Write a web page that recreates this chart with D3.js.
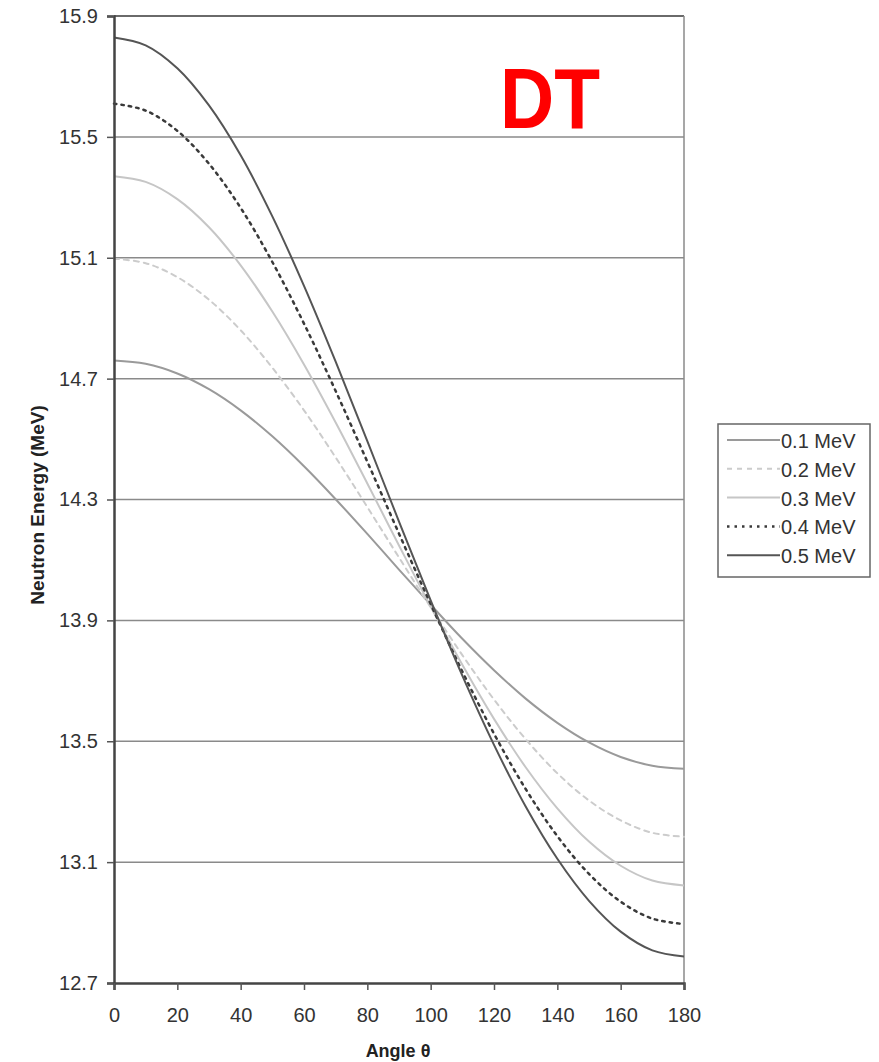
<!DOCTYPE html>
<html>
<head>
<meta charset="utf-8">
<script src="https://cdn.jsdelivr.net/npm/d3@7"></script>
<style>
  body { margin: 0; background: #fff; }
  text { font-family: "Liberation Sans", Arial, sans-serif; }
</style>
</head>
<body>
<svg id="chart" width="879" height="1062"></svg>
<script>
// angle in degrees
const angles = [0, 10, 20, 30, 40, 50, 60, 70, 80, 90, 100, 110, 120, 130, 140, 150, 160, 170, 180];

// neutron energy (MeV), one list per deuteron energy
const e01 = [14.760, 14.749, 14.717, 14.665, 14.595, 14.509, 14.410, 14.301, 14.186, 14.068, 13.952, 13.839, 13.735, 13.641, 13.561, 13.496, 13.448, 13.419, 13.409];
const e02 = [15.097, 15.082, 15.036, 14.961, 14.860, 14.736, 14.595, 14.439, 14.275, 14.108, 13.943, 13.785, 13.638, 13.507, 13.394, 13.304, 13.238, 13.197, 13.184];
const e03 = [15.370, 15.351, 15.294, 15.201, 15.075, 14.922, 14.747, 14.555, 14.353, 14.148, 13.946, 13.753, 13.574, 13.414, 13.278, 13.168, 13.088, 13.039, 13.023];
const e04 = [15.610, 15.587, 15.520, 15.411, 15.265, 15.086, 14.882, 14.659, 14.425, 14.187, 13.954, 13.731, 13.525, 13.342, 13.186, 13.061, 12.969, 12.913, 12.895];
const e05 = [15.829, 15.803, 15.727, 15.604, 15.439, 15.237, 15.007, 14.756, 14.493, 14.227, 13.966, 13.717, 13.488, 13.284, 13.111, 12.972, 12.870, 12.808, 12.788];

const seriesNames = ["0.1 MeV", "0.2 MeV", "0.3 MeV", "0.4 MeV", "0.5 MeV"];
const yTicks = [12.7, 13.1, 13.5, 13.9, 14.3, 14.7, 15.1, 15.5, 15.9];
const xTicks = [0, 20, 40, 60, 80, 100, 120, 140, 160, 180];

const seriesValues = [e01, e02, e03, e04, e05];
const styles = [
  { color: "#9a9a9a", width: 2, dash: null },
  { color: "#cccccc", width: 2, dash: "5,5" },
  { color: "#c6c6c6", width: 2, dash: null },
  { color: "#3a3a3a", width: 2.5, dash: "2.5,5" },
  { color: "#555555", width: 2, dash: null }
];

const svg = d3.select("#chart");
const plotLeft = 114, plotRight = 684, plotTop = 16, plotBottom = 983;

const x = d3.scaleLinear().domain([0, 180]).range([plotLeft, plotRight]);
const y = d3.scaleLinear().domain([12.7, 15.9]).range([plotBottom, plotTop]);

// grid lines
svg.append("g")
  .selectAll("line")
  .data(yTicks.slice(1, -1))
  .join("line")
    .attr("x1", plotLeft).attr("x2", plotRight)
    .attr("y1", d => y(d)).attr("y2", d => y(d))
    .attr("stroke", "#8a8a8a")
    .attr("stroke-width", 1.5);

// frame top/right
svg.append("line")
  .attr("x1", plotLeft).attr("x2", plotRight).attr("y1", plotTop).attr("y2", plotTop)
  .attr("stroke", "#6a6a6a").attr("stroke-width", 2);
svg.append("line")
  .attr("x1", plotRight).attr("x2", plotRight).attr("y1", plotTop).attr("y2", plotBottom)
  .attr("stroke", "#8a8a8a").attr("stroke-width", 1.5);

// curves
const line = d3.line()
  .x((d, i) => x(angles[i]))
  .y(d => y(d))
  .curve(d3.curveCatmullRom);

seriesValues.forEach((vals, i) => {
  svg.append("path")
    .datum(vals)
    .attr("d", line)
    .attr("fill", "none")
    .attr("stroke", styles[i].color)
    .attr("stroke-width", styles[i].width)
    .attr("stroke-dasharray", styles[i].dash)
    .attr("stroke-linecap", styles[i].dash ? "round" : "butt");
});

// axes
const yAxis = svg.append("g")
  .attr("transform", `translate(${plotLeft},0)`)
  .call(d3.axisLeft(y).tickValues(yTicks).tickFormat(d3.format(".1f")).tickSize(7).tickPadding(9));
const xAxis = svg.append("g")
  .attr("transform", `translate(0,${plotBottom})`)
  .call(d3.axisBottom(x).tickValues(xTicks).tickSize(7).tickPadding(18));

[yAxis, xAxis].forEach(g => {
  g.select(".domain").attr("stroke", "#444").attr("stroke-width", 2.5);
  g.selectAll(".tick line").attr("stroke", "#555").attr("stroke-width", 1.5);
  g.selectAll(".tick text")
    .attr("fill", "#333")
    .style("font-size", "20px")
    .style("font-family", "'Liberation Sans', Arial, sans-serif");
});

// axis titles
svg.append("text")
  .attr("x", 398).attr("y", 1057)
  .attr("text-anchor", "middle")
  .attr("font-weight", "bold")
  .attr("font-size", 18)
  .attr("fill", "#222")
  .text("Angle θ");

svg.append("text")
  .attr("transform", "translate(44,505) rotate(-90)")
  .attr("text-anchor", "middle")
  .attr("font-weight", "bold")
  .attr("font-size", 19)
  .attr("fill", "#222")
  .text("Neutron Energy (MeV)");

// big label
svg.append("text")
  .attr("x", 500).attr("y", 128)
  .attr("font-family", "Lato, 'Open Sans', sans-serif")
  .attr("font-weight", "bold")
  .attr("font-size", 86)
  .attr("fill", "#ff0000")
  .attr("textLength", 100)
  .attr("lengthAdjust", "spacingAndGlyphs")
  .text("DT");

// legend
const legend = svg.append("g");
legend.append("rect")
  .attr("x", 718).attr("y", 424).attr("width", 152).attr("height", 153)
  .attr("fill", "#fff").attr("stroke", "#666").attr("stroke-width", 1.5);

seriesNames.forEach((name, i) => {
  const ly = 440 + i * 28.8;
  legend.append("line")
    .attr("x1", 727).attr("x2", 780).attr("y1", ly).attr("y2", ly)
    .attr("stroke", styles[i].color)
    .attr("stroke-width", styles[i].width)
    .attr("stroke-dasharray", styles[i].dash);
  legend.append("text")
    .attr("x", 781).attr("y", ly + 8)
    .attr("font-size", 20)
    .attr("fill", "#333")
    .text(name);
});
</script>
</body>
</html>
